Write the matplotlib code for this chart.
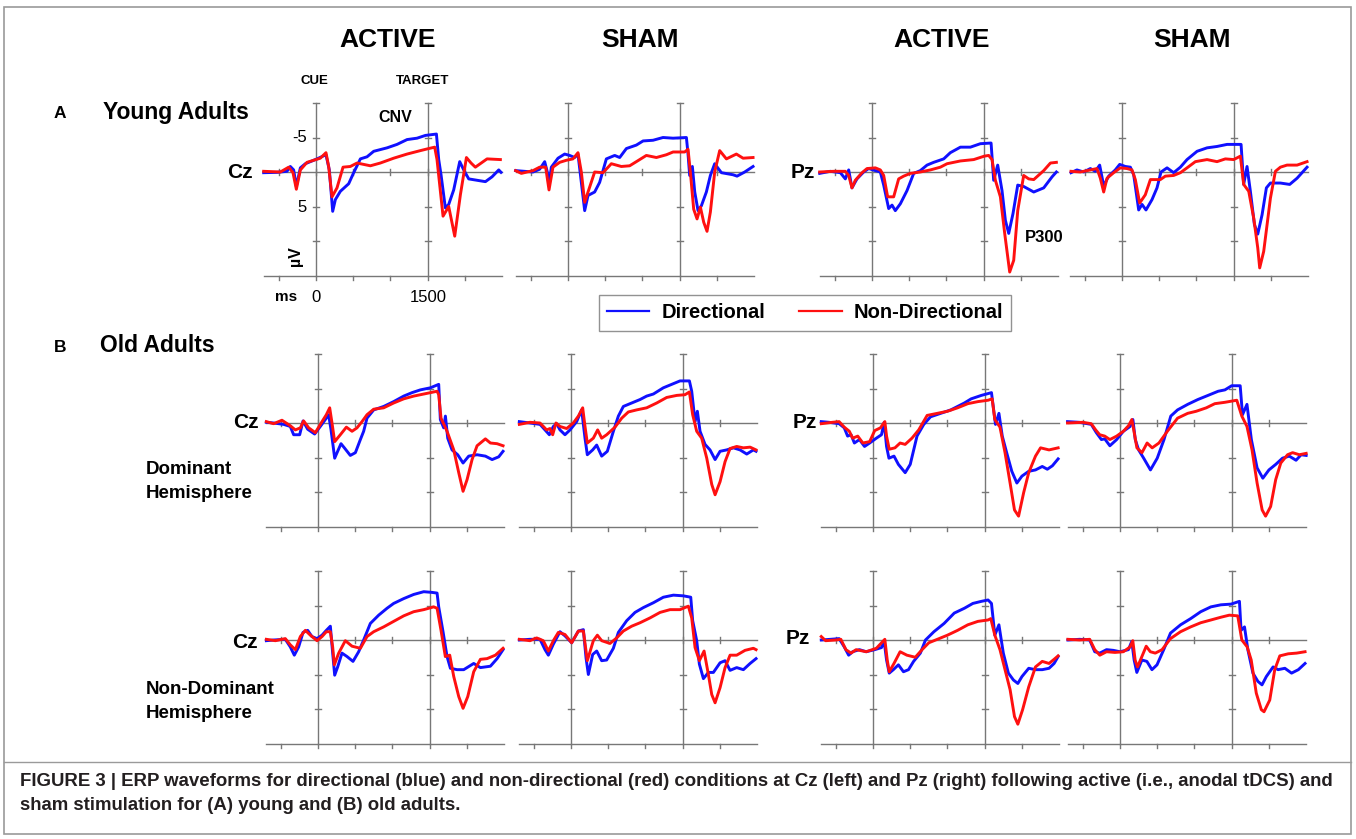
import matplotlib.pyplot as plt
from matplotlib.lines import Line2D
from matplotlib.patches import Rectangle

W, H = 1356, 839
plt.rcParams['font.family'] = ['Liberation Sans', 'DejaVu Sans']
plt.rcParams['font.weight'] = 'bold'

BLUE = '#1010ff'
RED = '#ff1010'
GRID = '#777777'

# ---- waveforms: time (ms) / amplitude (uV, negative up) ----
# A, young adults
A_CZ_ACT_DIR_T = [-703, -524, -390, -345, -300, -264, -210, -143, 13, 134, 179, 224, 260, 327, 439, 506, 596, 685, 775, 954, 1088, 1223, 1357, 1469, 1617, 1648, 1679, 1737, 1782, 1849, 1930, 1984, 2051, 2163, 2275, 2364, 2454, 2485]
A_CZ_ACT_DIR_V = [0.1, 0.05, -0.1, -0.8, -0.3, 2.1, -0.6, -1.2, -1.9, -2.5, -0.3, 5.7, 4.0, 2.8, 1.7, 0.1, -1.9, -2.2, -3.0, -3.5, -4.0, -4.7, -4.9, -5.3, -5.5, -1.8, 0.4, 5.2, 4.7, 2.6, -1.5, -0.3, 1.0, 1.2, 1.4, 0.7, -0.3, 0.05]
A_CZ_ACT_ND_T = [-703, -479, -367, -309, -264, -210, -121, 58, 134, 170, 215, 282, 363, 461, 551, 730, 864, 1043, 1223, 1402, 1514, 1594, 1625, 1706, 1782, 1863, 1939, 2020, 2082, 2140, 2297, 2476]
A_CZ_ACT_ND_V = [-0.1, 0, -0.7, 0.1, 2.5, -0.3, -1.4, -2.0, -2.8, -0.8, 3.6, 2.3, -0.7, -0.8, -1.3, -0.9, -1.3, -2.0, -2.6, -3.1, -3.4, -3.6, -1.8, 6.4, 5.0, 9.3, 3.3, -2.1, -1.3, -0.7, -1.9, -1.8]

A_CZ_SH_DIR_T = [-703, -470, -381, -313, -278, -255, -224, -134, -45, 22, 90, 134, 179, 224, 269, 358, 425, 515, 627, 694, 784, 918, 1008, 1142, 1276, 1411, 1590, 1612, 1634, 1670, 1702, 1746, 1791, 1858, 1912, 1970, 2060, 2216, 2270, 2373, 2485]
A_CZ_SH_DIR_V = [-0.2, 0, -0.4, -1.5, 0, 2.0, -0.7, -2.0, -2.6, -2.4, -2.1, -2.6, 1.5, 5.6, 3.4, 2.9, 1.5, -1.9, -2.4, -2.1, -3.4, -3.9, -4.5, -4.6, -5.0, -4.9, -5.0, -2.6, 0.5, -0.8, 2.9, 5.6, 4.9, 2.9, 0.5, -1.2, 0.1, 0.4, 0.6, 0, -0.8]
A_CZ_SH_ND_T = [-703, -627, -470, -381, -300, -255, -202, -112, -22, 67, 134, 179, 224, 269, 358, 470, 582, 716, 828, 918, 1052, 1187, 1321, 1411, 1567, 1612, 1643, 1688, 1733, 1778, 1823, 1867, 1912, 1970, 2037, 2127, 2261, 2351, 2485]
A_CZ_SH_ND_V = [-0.2, 0.2, -0.2, -0.7, -0.7, 2.6, -0.7, -1.4, -1.7, -1.9, -2.8, 0, 4.4, 2.9, 0, 0.1, -1.2, -0.8, -0.9, -1.5, -2.4, -2.1, -2.5, -2.9, -2.9, -3.3, 0, 5.4, 6.8, 5.1, 7.3, 8.6, 5.8, 0, -3.1, -1.9, -2.6, -2.0, -2.1]

A_PZ_ACT_DIR_T = [-703, -560, -425, -358, -313, -269, -202, -112, -45, 45, 112, 157, 224, 269, 313, 381, 470, 560, 649, 739, 828, 963, 1052, 1187, 1321, 1455, 1599, 1634, 1688, 1746, 1791, 1836, 1894, 1957, 2037, 2172, 2306, 2418, 2476]
A_PZ_ACT_DIR_V = [0.2, -0.1, 0.1, 1.0, -0.3, 2.3, 1.0, 0, -0.5, -0.2, 0, 1.9, 5.3, 4.8, 5.6, 4.6, 2.7, 0.2, -0.2, -1.0, -1.4, -1.9, -2.8, -3.6, -3.6, -4.1, -4.2, 1.2, -1.0, 2.7, 7.0, 8.9, 6.0, 1.9, 2.1, 2.9, 2.3, 0.7, 0]
A_PZ_ACT_ND_T = [-703, -515, -358, -313, -269, -224, -134, -67, 45, 112, 157, 210, 291, 358, 425, 515, 649, 784, 918, 1008, 1187, 1366, 1509, 1567, 1612, 1657, 1724, 1782, 1849, 1903, 1957, 2037, 2105, 2172, 2306, 2396, 2476]
A_PZ_ACT_ND_V = [0, -0.1, -0.1, 0.5, 2.3, 1.2, 0.1, -0.5, -0.6, -0.3, 0.5, 3.6, 3.6, 1.0, 0.6, 0.2, 0, -0.3, -0.7, -1.2, -1.6, -1.8, -2.3, -2.4, -1.8, 1.2, 3.6, 8.9, 14.5, 12.8, 5.6, 0.5, 1.0, 1.1, -0.2, -1.3, -1.4]

A_PZ_SH_DIR_T = [-685, -605, -515, -425, -358, -300, -246, -179, -90, -31, 45, 112, 157, 224, 269, 322, 403, 470, 524, 605, 694, 784, 873, 1008, 1142, 1276, 1411, 1599, 1634, 1679, 1724, 1778, 1823, 1881, 1939, 1993, 2127, 2252, 2351, 2485]
A_PZ_SH_DIR_V = [0.1, -0.3, 0, -0.5, -0.1, -1.0, 2.0, 0.6, -0.3, -1.1, -0.8, -0.7, 0.4, 5.5, 4.7, 5.5, 4.0, 2.3, 0, -0.6, 0.1, -0.7, -1.8, -3.0, -3.5, -3.7, -4.0, -4.0, 1.8, -0.8, 2.8, 7.6, 9.0, 6.2, 2.3, 1.6, 1.6, 1.8, 0.9, -0.7]
A_PZ_SH_ND_T = [-685, -560, -425, -336, -291, -246, -201, -112, -22, 67, 134, 179, 237, 313, 381, 448, 515, 582, 694, 784, 873, 985, 1142, 1276, 1388, 1500, 1590, 1634, 1702, 1769, 1823, 1849, 1903, 1993, 2060, 2127, 2216, 2351, 2485]
A_PZ_SH_ND_V = [-0.1, 0, -0.3, -0.5, 0.9, 2.9, 0.9, 0.1, -0.6, -0.5, -0.3, 1.1, 4.5, 3.3, 1.1, 1.1, 1.1, 0.6, 0.5, 0.1, -0.6, -1.5, -1.8, -1.5, -1.9, -1.8, -2.3, 1.8, 2.8, 6.7, 11.0, 13.9, 11.5, 3.8, -0.1, -0.7, -1.0, -1.0, -1.5]

# B, old adults, dominant hemisphere
B1_CZ_ACT_DIR_T = [-694, -596, -461, -372, -327, -246, -201, -139, -45, 31, 112, 143, 175, 224, 264, 309, 354, 434, 502, 569, 613, 658, 748, 882, 1016, 1151, 1263, 1375, 1509, 1621, 1643, 1688, 1711, 1742, 1800, 1876, 1948, 2024, 2136, 2248, 2338, 2427, 2485]
B1_CZ_ACT_DIR_V = [-0.1, 0, 0.2, 0.5, 1.7, 1.7, -0.3, 0.9, 1.6, 0.5, -0.7, -1.2, 1.0, 5.1, 4.1, 3.0, 3.6, 4.7, 4.3, 2.4, 1.2, -0.7, -1.9, -2.4, -3.1, -3.9, -4.4, -4.8, -5.1, -5.6, -0.5, 0.7, -1.0, 2.2, 3.9, 4.6, 5.8, 4.8, 4.6, 4.8, 5.3, 4.9, 4.1]
B1_CZ_ACT_ND_T = [-694, -596, -484, -372, -304, -237, -193, -125, -36, 54, 112, 157, 188, 224, 300, 381, 457, 524, 591, 658, 748, 882, 1016, 1151, 1285, 1420, 1599, 1621, 1652, 1733, 1823, 1890, 1948, 2002, 2069, 2136, 2248, 2315, 2405, 2485]
B1_CZ_ACT_ND_V = [-0.2, 0.1, -0.4, 0.4, 1.0, 0.7, -0.3, 0.7, 1.4, -0.2, -1.2, -2.2, 0, 2.7, 1.7, 0.6, 1.2, 0.7, -0.2, -1.2, -2.0, -2.2, -2.9, -3.5, -3.9, -4.2, -4.6, -4.1, -0.7, 1.2, 3.9, 7.2, 9.9, 8.2, 5.3, 3.3, 2.3, 2.9, 3.0, 3.3]

B1_CZ_SH_DIR_T = [-694, -551, -416, -349, -291, -237, -193, -148, -81, -13, 76, 143, 188, 219, 291, 345, 412, 488, 569, 636, 703, 815, 927, 1016, 1106, 1240, 1352, 1464, 1590, 1621, 1666, 1697, 1733, 1800, 1867, 1935, 2002, 2091, 2181, 2270, 2360, 2449, 2485]
B1_CZ_SH_DIR_V = [-0.2, 0, 0.2, 1.0, 1.7, 0.5, 0.1, 1.0, 1.7, 1.0, -0.2, -1.9, 2.2, 4.6, 3.9, 3.2, 4.8, 4.1, 1.2, -1.0, -2.4, -2.9, -3.4, -3.9, -4.2, -5.1, -5.6, -6.1, -6.1, -4.6, -0.2, -1.7, 1.2, 3.1, 3.9, 5.3, 4.1, 3.9, 3.6, 3.9, 4.5, 3.9, 4.1]
B1_CZ_SH_ND_T = [-694, -551, -416, -327, -282, -246, -202, -148, -58, 31, 99, 157, 188, 219, 300, 358, 412, 479, 591, 681, 770, 882, 1016, 1151, 1285, 1420, 1531, 1590, 1634, 1688, 1755, 1823, 1890, 1935, 2002, 2069, 2136, 2225, 2315, 2405, 2485]
B1_CZ_SH_ND_V = [0.2, -0.1, 0, 1.0, 0.8, 1.7, 0, 0.5, 0.8, 0, -1.0, -2.2, 0.5, 2.9, 2.2, 1.0, 2.2, 1.7, 0.6, -0.7, -1.6, -1.9, -2.2, -2.9, -3.7, -4.0, -4.1, -4.5, -1.2, 1.2, 2.2, 5.1, 8.9, 10.4, 8.5, 5.6, 3.7, 3.4, 3.6, 3.5, 3.9]

B1_PZ_ACT_DIR_T = [-695, -591, -455, -386, -341, -295, -250, -182, -114, -45, 45, 114, 150, 182, 214, 282, 341, 432, 500, 591, 682, 773, 909, 1045, 1136, 1227, 1318, 1455, 1591, 1645, 1691, 1736, 1795, 1864, 1932, 2000, 2091, 2182, 2273, 2341, 2409, 2486]
B1_PZ_ACT_DIR_V = [-0.2, -0.1, 0.1, 0.7, 1.9, 1.7, 2.9, 2.4, 3.4, 2.9, 2.2, 1.7, -0.1, 3.4, 5.1, 4.8, 6.0, 7.2, 6.0, 1.9, 0.2, -0.9, -1.4, -1.9, -2.4, -2.9, -3.5, -4.0, -4.4, 0.2, -1.4, 1.9, 4.3, 7.0, 8.7, 7.7, 7.0, 6.8, 6.3, 6.7, 6.2, 5.2]
B1_PZ_ACT_ND_T = [-695, -545, -455, -386, -318, -273, -205, -136, -45, 23, 100, 159, 182, 218, 295, 364, 432, 523, 614, 727, 864, 1000, 1136, 1273, 1409, 1545, 1600, 1636, 1705, 1773, 1841, 1900, 1955, 2023, 2091, 2182, 2250, 2364, 2486]
B1_PZ_ACT_ND_V = [0.1, -0.1, -0.2, 0.6, 1.2, 2.2, 1.9, 2.9, 2.7, 1.1, 0.7, -0.2, 1.9, 3.8, 3.6, 2.9, 3.1, 2.2, 1.0, -1.1, -1.4, -1.7, -2.2, -2.8, -3.1, -3.3, -3.5, -0.5, 0.6, 4.3, 8.7, 12.6, 13.5, 10.1, 7.2, 4.8, 3.6, 3.9, 3.6]

B1_PZ_SH_DIR_T = [-705, -545, -386, -318, -250, -205, -136, -45, 45, 136, 173, 205, 250, 318, 409, 500, 591, 682, 773, 909, 1045, 1182, 1318, 1409, 1500, 1614, 1645, 1705, 1764, 1841, 1918, 2000, 2091, 2182, 2273, 2364, 2432, 2500]
B1_PZ_SH_DIR_V = [-0.2, -0.1, 0.2, 1.4, 2.4, 2.3, 3.3, 2.4, 1.2, 0.5, -0.5, 2.4, 3.9, 5.1, 6.8, 5.1, 2.4, -1.0, -1.9, -2.7, -3.4, -4.0, -4.6, -4.8, -5.4, -5.4, -1.2, -2.7, 2.4, 6.5, 8.0, 6.8, 6.0, 5.1, 4.8, 5.4, 4.6, 4.7]
B1_PZ_SH_ND_T = [-705, -500, -386, -327, -273, -205, -136, -45, 45, 114, 159, 191, 227, 295, 364, 432, 523, 636, 773, 909, 1023, 1159, 1273, 1409, 1568, 1636, 1705, 1773, 1841, 1909, 1955, 2023, 2091, 2159, 2250, 2318, 2409, 2500]
B1_PZ_SH_ND_V = [0, -0.1, 0.1, 1.0, 1.7, 1.9, 2.4, 1.9, 1.2, 0.4, -0.5, 1.4, 3.6, 4.3, 2.9, 3.6, 2.9, 1.2, -0.7, -1.4, -1.7, -2.2, -2.8, -3.0, -3.3, -1.0, 0.5, 3.9, 8.7, 12.6, 13.5, 12.1, 8.2, 5.8, 4.6, 4.3, 4.6, 4.4]

# B, old adults, non-dominant hemisphere
B2_CZ_ACT_DIR_T = [-694, -596, -439, -372, -318, -260, -201, -139, -81, -13, 54, 112, 166, 193, 224, 264, 322, 390, 470, 546, 613, 703, 815, 927, 1016, 1151, 1285, 1420, 1531, 1599, 1621, 1679, 1733, 1778, 1867, 1957, 2091, 2181, 2315, 2405, 2485]
B2_CZ_ACT_DIR_V = [0.1, 0, -0.1, 1.0, 2.2, 1.0, -1.1, -1.4, -0.5, -0.2, -0.7, -1.4, -2.0, 1.4, 5.1, 3.9, 1.9, 2.4, 3.1, 1.7, 0, -2.4, -3.6, -4.6, -5.3, -6.0, -6.6, -7.0, -6.9, -6.8, -4.8, -1.2, 2.4, 4.1, 4.3, 4.3, 3.4, 4.0, 3.8, 2.7, 1.4]
B2_CZ_ACT_ND_T = [-694, -573, -439, -372, -304, -237, -170, -103, -13, 54, 112, 166, 197, 219, 278, 367, 457, 569, 658, 748, 882, 1016, 1151, 1285, 1420, 1554, 1599, 1652, 1710, 1769, 1823, 1890, 1948, 2011, 2091, 2181, 2270, 2382, 2485]
B2_CZ_ACT_ND_V = [-0.1, 0.1, -0.2, 0.7, 1.4, -0.5, -1.4, -0.7, 0.1, -0.5, -1.2, -1.2, 1.0, 3.6, 1.9, 0.1, 0.9, 1.2, -0.5, -1.2, -1.9, -2.7, -3.5, -4.1, -4.4, -4.8, -4.6, -1.4, 2.4, 2.2, 5.3, 8.2, 9.9, 8.2, 4.6, 2.8, 2.7, 2.2, 1.2]

B2_CZ_SH_DIR_T = [-694, -551, -416, -349, -304, -237, -148, -81, 9, 99, 166, 202, 233, 291, 345, 412, 479, 569, 636, 748, 860, 972, 1106, 1240, 1375, 1509, 1608, 1634, 1688, 1724, 1778, 1845, 1912, 2002, 2069, 2136, 2225, 2315, 2405, 2485]
B2_CZ_SH_DIR_V = [0, -0.1, -0.1, 1.4, 2.2, 0.6, -1.2, -0.6, 0.4, -1.3, -1.5, 2.6, 5.0, 2.1, 1.6, 3.0, 2.9, 1.2, -1.1, -2.8, -4.0, -4.7, -5.4, -6.2, -6.5, -6.4, -6.2, -2.8, 0.1, 3.5, 5.6, 4.7, 4.7, 3.3, 3.0, 4.4, 4.0, 4.3, 3.4, 2.7]
B2_CZ_SH_ND_T = [-694, -551, -461, -372, -304, -237, -170, -81, 9, 99, 166, 202, 219, 300, 354, 412, 524, 613, 703, 815, 927, 1061, 1196, 1330, 1464, 1576, 1621, 1666, 1724, 1787, 1845, 1890, 1935, 2002, 2069, 2136, 2225, 2337, 2449, 2485]
B2_CZ_SH_ND_V = [-0.1, 0.1, -0.3, 0.1, 1.6, 0.1, -1.1, -0.8, 0.4, -1.3, -1.3, 1.6, 3.0, 0.1, -0.7, 0.1, 0.5, -0.3, -1.3, -2.0, -2.5, -3.2, -4.0, -4.4, -4.4, -4.9, -3.2, 1.1, 3.0, 1.6, 5.0, 7.9, 9.1, 6.9, 4.0, 2.2, 2.2, 1.5, 1.2, 1.4]

B2_PZ_ACT_DIR_T = [-695, -568, -455, -386, -327, -273, -182, -91, 23, 114, 150, 182, 218, 273, 341, 409, 477, 545, 636, 705, 818, 955, 1091, 1227, 1341, 1455, 1545, 1591, 1636, 1691, 1750, 1818, 1886, 1945, 2000, 2091, 2182, 2273, 2364, 2432, 2486]
B2_PZ_ACT_DIR_V = [0, -0.1, -0.2, 1.0, 2.2, 1.7, 1.4, 1.7, 1.4, 1.1, 0.2, 2.9, 4.8, 4.3, 3.6, 4.6, 4.3, 3.1, 1.9, 0, -1.2, -2.4, -3.9, -4.6, -5.3, -5.6, -5.8, -5.3, -0.7, -2.2, 1.9, 4.8, 5.8, 6.3, 5.3, 4.1, 4.3, 4.3, 4.1, 3.4, 2.4]
B2_PZ_ACT_ND_T = [-695, -636, -500, -432, -364, -295, -227, -91, 45, 159, 191, 218, 282, 364, 455, 568, 659, 750, 864, 1000, 1136, 1273, 1409, 1545, 1582, 1636, 1705, 1773, 1841, 1900, 1945, 2009, 2091, 2182, 2273, 2364, 2432, 2486]
B2_PZ_ACT_ND_V = [-0.5, 0.1, 0, -0.1, 1.4, 1.9, 1.4, 1.7, 1.2, -0.1, 2.9, 4.6, 3.4, 1.7, 2.2, 2.5, 1.4, 0.4, -0.1, -0.7, -1.4, -2.2, -2.7, -2.9, -3.1, -0.7, 1.4, 4.3, 7.2, 11.1, 12.2, 10.1, 6.8, 3.9, 3.1, 3.4, 2.8, 2.3]

B2_PZ_SH_DIR_T = [-700, -542, -407, -339, -271, -181, -90, 0, 113, 158, 190, 226, 294, 361, 429, 497, 587, 678, 813, 949, 1084, 1220, 1355, 1491, 1604, 1626, 1672, 1717, 1785, 1852, 1907, 1965, 2056, 2123, 2214, 2304, 2395, 2485]
B2_PZ_SH_DIR_V = [0, -0.1, 0, 1.7, 1.9, 1.4, 1.5, 1.7, 1.4, 0.2, 2.9, 4.7, 2.9, 3.1, 4.3, 3.6, 1.4, -1.0, -2.2, -3.1, -4.1, -4.8, -5.1, -5.2, -5.6, -1.4, -1.9, 1.4, 4.8, 6.0, 6.5, 5.3, 3.9, 4.3, 4.1, 4.8, 4.3, 3.4]
B2_PZ_SH_ND_T = [-700, -542, -407, -339, -271, -181, -68, 45, 136, 172, 203, 235, 294, 352, 407, 474, 565, 678, 813, 949, 1084, 1220, 1355, 1468, 1581, 1636, 1708, 1762, 1830, 1898, 1934, 2011, 2078, 2146, 2259, 2372, 2485]
B2_PZ_SH_ND_V = [-0.1, 0, -0.1, 1.4, 2.2, 1.7, 1.8, 1.7, 1.0, 0.1, 2.9, 3.9, 2.4, 0.9, 1.7, 1.9, 1.4, -0.2, -1.2, -1.9, -2.5, -2.9, -3.3, -3.6, -3.5, 0, 1.0, 2.9, 7.7, 10.1, 10.4, 8.7, 4.3, 2.3, 2.0, 1.9, 1.7]

PANELS = [
    # (x of 0 ms, y of 0 uV) in pixels, directional, non-directional
    ((316, 172), (A_CZ_ACT_DIR_T, A_CZ_ACT_DIR_V), (A_CZ_ACT_ND_T, A_CZ_ACT_ND_V)),
    ((568, 172), (A_CZ_SH_DIR_T, A_CZ_SH_DIR_V), (A_CZ_SH_ND_T, A_CZ_SH_ND_V)),
    ((872, 172), (A_PZ_ACT_DIR_T, A_PZ_ACT_DIR_V), (A_PZ_ACT_ND_T, A_PZ_ACT_ND_V)),
    ((1122, 172), (A_PZ_SH_DIR_T, A_PZ_SH_DIR_V), (A_PZ_SH_ND_T, A_PZ_SH_ND_V)),
    ((318, 423), (B1_CZ_ACT_DIR_T, B1_CZ_ACT_DIR_V), (B1_CZ_ACT_ND_T, B1_CZ_ACT_ND_V)),
    ((571, 423), (B1_CZ_SH_DIR_T, B1_CZ_SH_DIR_V), (B1_CZ_SH_ND_T, B1_CZ_SH_ND_V)),
    ((873, 423), (B1_PZ_ACT_DIR_T, B1_PZ_ACT_DIR_V), (B1_PZ_ACT_ND_T, B1_PZ_ACT_ND_V)),
    ((1120, 423), (B1_PZ_SH_DIR_T, B1_PZ_SH_DIR_V), (B1_PZ_SH_ND_T, B1_PZ_SH_ND_V)),
    ((318, 640), (B2_CZ_ACT_DIR_T, B2_CZ_ACT_DIR_V), (B2_CZ_ACT_ND_T, B2_CZ_ACT_ND_V)),
    ((571, 640), (B2_CZ_SH_DIR_T, B2_CZ_SH_DIR_V), (B2_CZ_SH_ND_T, B2_CZ_SH_ND_V)),
    ((873, 640), (B2_PZ_ACT_DIR_T, B2_PZ_ACT_DIR_V), (B2_PZ_ACT_ND_T, B2_PZ_ACT_ND_V)),
    ((1120, 640), (B2_PZ_SH_DIR_T, B2_PZ_SH_DIR_V), (B2_PZ_SH_ND_T, B2_PZ_SH_ND_V)),
]

T_MIN, T_MAX = -700, 2500
V_MIN, V_MAX = -10, 15
PX_PER_MS = 111.7 / 1500
PX_PER_UV = 6.9
T_TICKS = [-500, 0, 500, 1000, 1500, 2000]
V_TICKS = [-10, -5, 5, 10]

fig = plt.figure(figsize=(W / 100, H / 100), dpi=100)


def fx(x):
    return x / W


def fy(y):
    return 1 - y / H


def txt(x, y, s, size, ha='center', va='center', weight='bold', **kw):
    fig.text(fx(x), fy(y), s, fontsize=size, ha=ha, va=va, fontweight=weight, **kw)


for (x0, y0), (dt, dv), (nt, nv) in PANELS:
    left = x0 + T_MIN * PX_PER_MS
    top = y0 + V_MIN * PX_PER_UV
    w = (T_MAX - T_MIN) * PX_PER_MS
    h = (V_MAX - V_MIN) * PX_PER_UV
    ax = fig.add_axes([fx(left), fy(top + h), w / W, h / H])
    ax.set_xlim(T_MIN, T_MAX)
    ax.set_ylim(V_MAX, V_MIN)
    ax.axis('off')
    lw = 1.0
    ax.plot([T_MIN, T_MAX], [0, 0], color=GRID, lw=lw, clip_on=False)
    ax.plot([T_MIN, T_MAX], [V_MAX, V_MAX], color=GRID, lw=lw, clip_on=False)
    for t in (0, 1500):
        ax.plot([t, t], [V_MIN, V_MAX], color=GRID, lw=lw, clip_on=False)
        for v in V_TICKS:
            ax.plot([t - 40, t + 40], [v, v], color=GRID, lw=lw, clip_on=False)
    for t in T_TICKS:
        ax.plot([t, t], [-0.4, 0.4], color=GRID, lw=lw, clip_on=False)
        ax.plot([t, t], [V_MAX, V_MAX + 0.7], color=GRID, lw=lw, clip_on=False)
    ax.plot(dt, dv, color=BLUE, lw=2.1, solid_joinstyle='round', clip_on=False)
    ax.plot(nt, nv, color=RED, lw=2.1, solid_joinstyle='round', clip_on=False)

# column titles
for x, s in [(388, 'ACTIVE'), (640, 'SHAM'), (942, 'ACTIVE'), (1192, 'SHAM')]:
    txt(x, 40, s, 19)
txt(314, 81, 'CUE', 9.5)
txt(423, 81, 'TARGET', 9.5)
txt(395, 118, 'CNV', 11.5)
txt(1044, 237, 'P300', 12)

# row labels
txt(60, 114, 'A', 12.5)
txt(103, 113, 'Young Adults', 16.5, ha='left')
txt(60, 347, 'B', 12.5)
txt(100, 346, 'Old Adults', 16.5, ha='left')

for x, y, s in [(240, 172, 'Cz'), (803, 172, 'Pz'), (246, 422, 'Cz'), (805, 422, 'Pz'),
                (245, 642, 'Cz'), (798, 638, 'Pz')]:
    txt(x, y, s, 15)
txt(146, 470, 'Dominant', 13.5, ha='left')
txt(146, 494, 'Hemisphere', 13.5, ha='left')
txt(146, 690, 'Non-Dominant', 13.5, ha='left')
txt(146, 714, 'Hemisphere', 13.5, ha='left')

# axis annotations on the first panel
txt(307, 138, '-5', 12, ha='right', weight='normal')
txt(307, 207, '5', 12, ha='right', weight='normal')
txt(295, 256, 'µV', 11.5, rotation=90)
txt(286, 297, 'ms', 11)
txt(316, 297, '0', 12, weight='normal')
txt(428, 297, '1500', 12, weight='normal')

# legend
handles = [Line2D([], [], color=BLUE, lw=1.6), Line2D([], [], color=RED, lw=1.6)]
leg = fig.legend(handles, ['Directional', 'Non-Directional'], loc='center',
                 bbox_to_anchor=(fx(805), fy(313)), ncol=2, frameon=True, fancybox=False,
                 edgecolor=GRID, handlelength=2.1, handletextpad=0.6, columnspacing=1.7,
                 borderpad=0.4, prop={'weight': 'bold', 'size': 14.5})
leg.get_frame().set_linewidth(1.0)

# frame and caption
fig.patches.append(Rectangle((fx(4), fy(834)), 1347 / W, (834 - 7) / H,
                             transform=fig.transFigure, fill=False, edgecolor='#9a9a9a', lw=1.2))
fig.add_artist(Line2D([fx(4), fx(1351)], [fy(762), fy(762)], color='#9a9a9a', lw=1.0))
cap1 = ('FIGURE 3 | ERP waveforms for directional (blue) and non-directional (red) conditions '
        'at Cz (left) and Pz (right) following active (i.e., anodal tDCS) and')
cap2 = 'sham stimulation for (A) young and (B) old adults.'
txt(20, 782, cap1, 13.4, ha='left', color='#231f20')
txt(20, 806, cap2, 13.4, ha='left', color='#231f20')

fig.savefig('out.png', dpi=100)
